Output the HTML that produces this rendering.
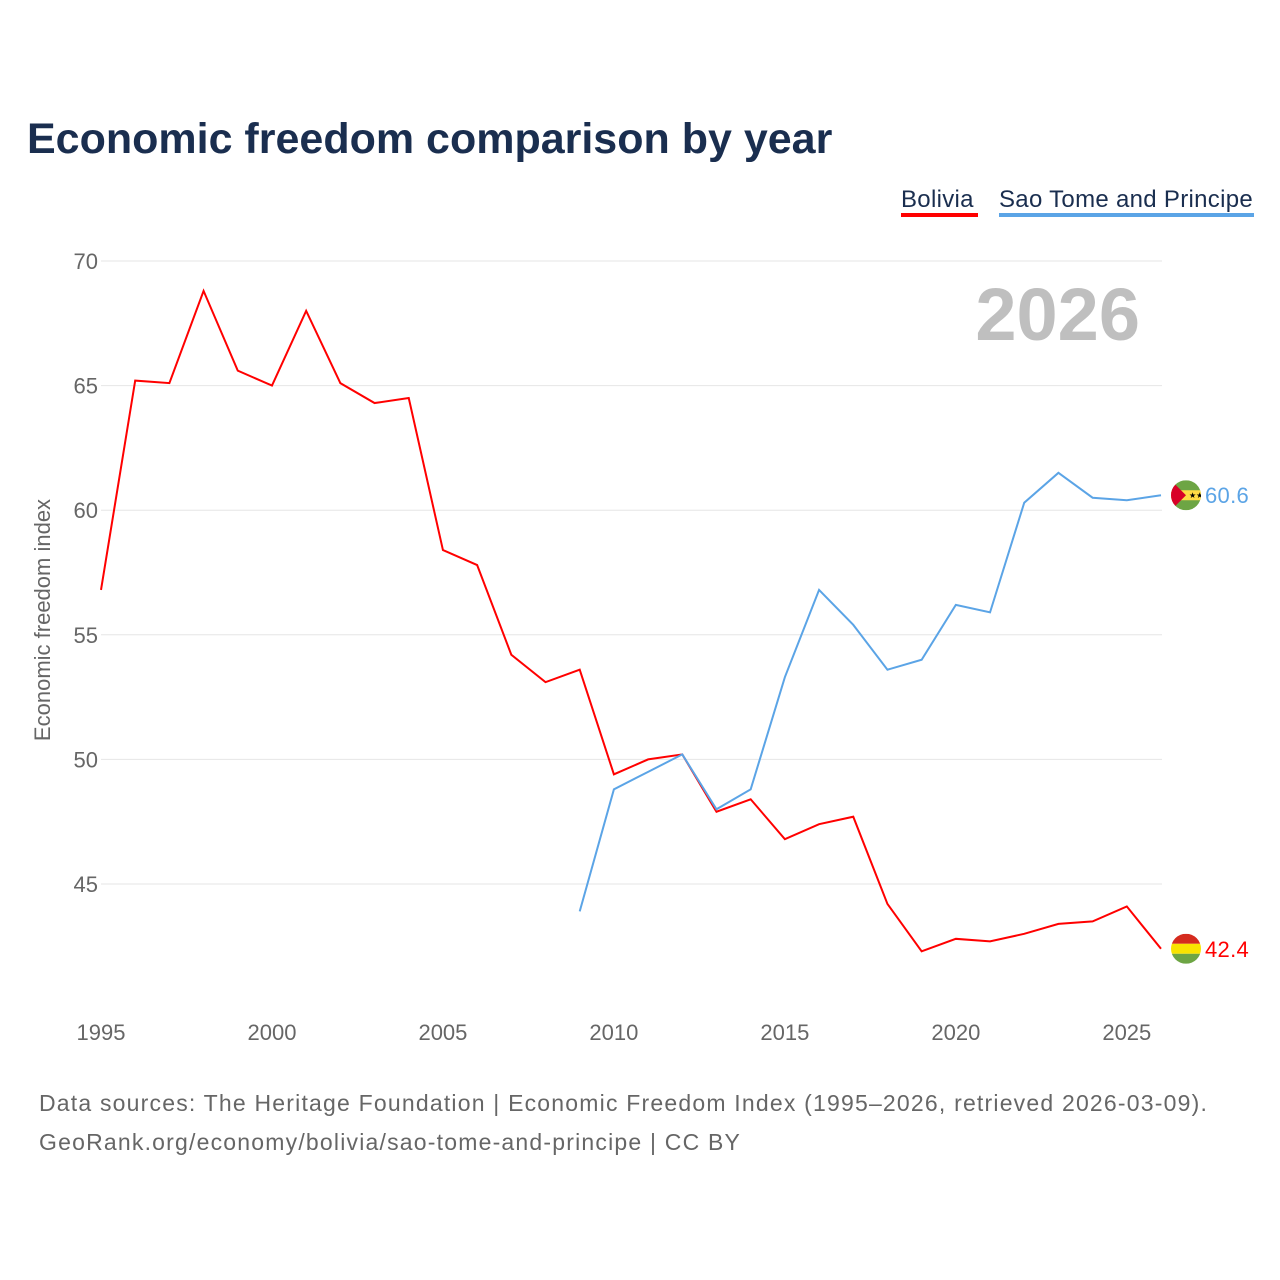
<!DOCTYPE html>
<html><head><meta charset="utf-8"><style>
body{margin:0;background:#fff;font-family:"Liberation Sans",sans-serif;}
#wrap{position:relative;width:1280px;height:1280px;overflow:hidden;}
</style></head><body>
<div id="wrap">
<svg id="chart" width="1280" height="1280"></svg>
</div>
<script>
const years=[1995,1996,1997,1998,1999,2000,2001,2002,2003,2004,2005,2006,2007,2008,2009,2010,2011,2012,2013,2014,2015,2016,2017,2018,2019,2020,2021,2022,2023,2024,2025,2026];
const boliviaValues=[56.8,65.2,65.1,68.8,65.6,65.0,68.0,65.1,64.3,64.5,58.4,57.8,54.2,53.1,53.6,49.4,50.0,50.2,47.9,48.4,46.8,47.4,47.7,44.2,42.3,42.8,42.7,43.0,43.4,43.5,44.1,42.4];
const stpYears=[2009,2010,2011,2012,2013,2014,2015,2016,2017,2018,2019,2020,2021,2022,2023,2024,2025,2026];
const stpValues=[43.9,48.8,49.5,50.2,48.0,48.8,53.3,56.8,55.4,53.6,54.0,56.2,55.9,60.3,61.5,60.5,60.4,60.6];
const yTicks=[45,50,55,60,65,70];
const xTicks=[1995,2000,2005,2010,2015,2020,2025];

const NS="http://www.w3.org/2000/svg";
const svg=document.getElementById('chart');
const x=v=>101+(v-1995)*(1161-101)/31;
const y=v=>261+(70-v)*24.92;
function el(tag,attrs,text){const e=document.createElementNS(NS,tag);for(const k in attrs)e.setAttribute(k,attrs[k]);if(text!==undefined)e.textContent=text;svg.appendChild(e);return e;}
const F='"Liberation Sans",sans-serif';

let t=el('text',{x:27,y:153,'font-size':43,'font-weight':'bold',fill:'#1a2e4f','font-family':F},'Economic freedom comparison by year');



t=el('text',{x:901,y:207,'font-size':24,fill:'#1a2e4f','font-family':F,'letter-spacing':0.3},'Bolivia');


let r=el('rect',{x:901,y:213,width:77,height:4,fill:'#ff0000'});


t=el('text',{x:999,y:207,'font-size':24,fill:'#1a2e4f','font-family':F,'letter-spacing':0.3},'Sao Tome and Principe');


r=el('rect',{x:999,y:213,width:255,height:4,fill:'#5ba4e6'});



yTicks.forEach(v=>{
 let g=el('line',{x1:101,x2:1162,y1:y(v),y2:y(v),stroke:'#e6e6e6','stroke-width':1});
 
 
 let l=el('text',{x:98,y:y(v)+8,'font-size':22,fill:'#666','text-anchor':'end','font-family':F},String(v));
 
 
});
xTicks.forEach(v=>{
 let l=el('text',{x:x(v),y:1040,'font-size':22,fill:'#666','text-anchor':'middle','font-family':F},String(v));
 
 
});
t=el('text',{x:0,y:0,'font-size':22,fill:'#666','text-anchor':'middle','font-family':F,transform:'translate(50,620) rotate(-90)'},'Economic freedom index');



t=el('text',{x:1140,y:340,'font-size':74,'font-weight':'bold',fill:'#bfbfbf','text-anchor':'end','font-family':F},'2026');



let p=el('polyline',{points:years.map((yr,i)=>x(yr)+','+y(boliviaValues[i])).join(' '),fill:'none',stroke:'#ff0000','stroke-width':2});


p=el('polyline',{points:stpYears.map((yr,i)=>x(yr)+','+y(stpValues[i])).join(' '),fill:'none',stroke:'#5ba4e6','stroke-width':2});



const bY=y(boliviaValues[boliviaValues.length-1]), sY=y(stpValues[stpValues.length-1]);
const defs=document.createElementNS(NS,'defs');svg.appendChild(defs);
defs.innerHTML='<clipPath id="cb"><circle cx="1186" cy="'+bY+'" r="15"/></clipPath><clipPath id="cs"><circle cx="1186" cy="'+sY+'" r="15"/></clipPath>';
let fb=el('g',{'clip-path':'url(#cb)'});


fb.innerHTML='<rect x="1171" y="'+(bY-15)+'" width="30" height="10" fill="#d52b1e"/><rect x="1171" y="'+(bY-5)+'" width="30" height="10" fill="#f9e300"/><rect x="1171" y="'+(bY+5)+'" width="30" height="10" fill="#6da544"/>';
let fs=el('g',{'clip-path':'url(#cs)'});


fs.innerHTML='<rect x="1171" y="'+(sY-15)+'" width="30" height="30" fill="#6da544"/><rect x="1171" y="'+(sY-5)+'" width="30" height="10" fill="#ffda44"/><polygon points="1171,'+(sY-15)+' 1186,'+sY+' 1171,'+(sY+15)+'" fill="#d80027"/><text x="1189" y="'+(sY+3)+'" font-size="8" fill="#000">★★</text>';

t=el('text',{x:1205,y:bY+8,'font-size':22,fill:'#ff0000','font-family':F,'letter-spacing':0.3},String(boliviaValues[boliviaValues.length-1]));


t=el('text',{x:1205,y:sY+8,'font-size':22,fill:'#5ba4e6','font-family':F,'letter-spacing':0.3},String(stpValues[stpValues.length-1]));



t=el('text',{x:39,y:1111,'font-size':23,fill:'#666','font-family':F,'letter-spacing':1.2},'Data sources: The Heritage Foundation | Economic Freedom Index (1995–2026, retrieved 2026-03-09).');


t=el('text',{x:39,y:1150,'font-size':23,fill:'#666','font-family':F,'letter-spacing':1.2},'GeoRank.org/economy/bolivia/sao-tome-and-principe | CC BY');


</script>
</body></html>
